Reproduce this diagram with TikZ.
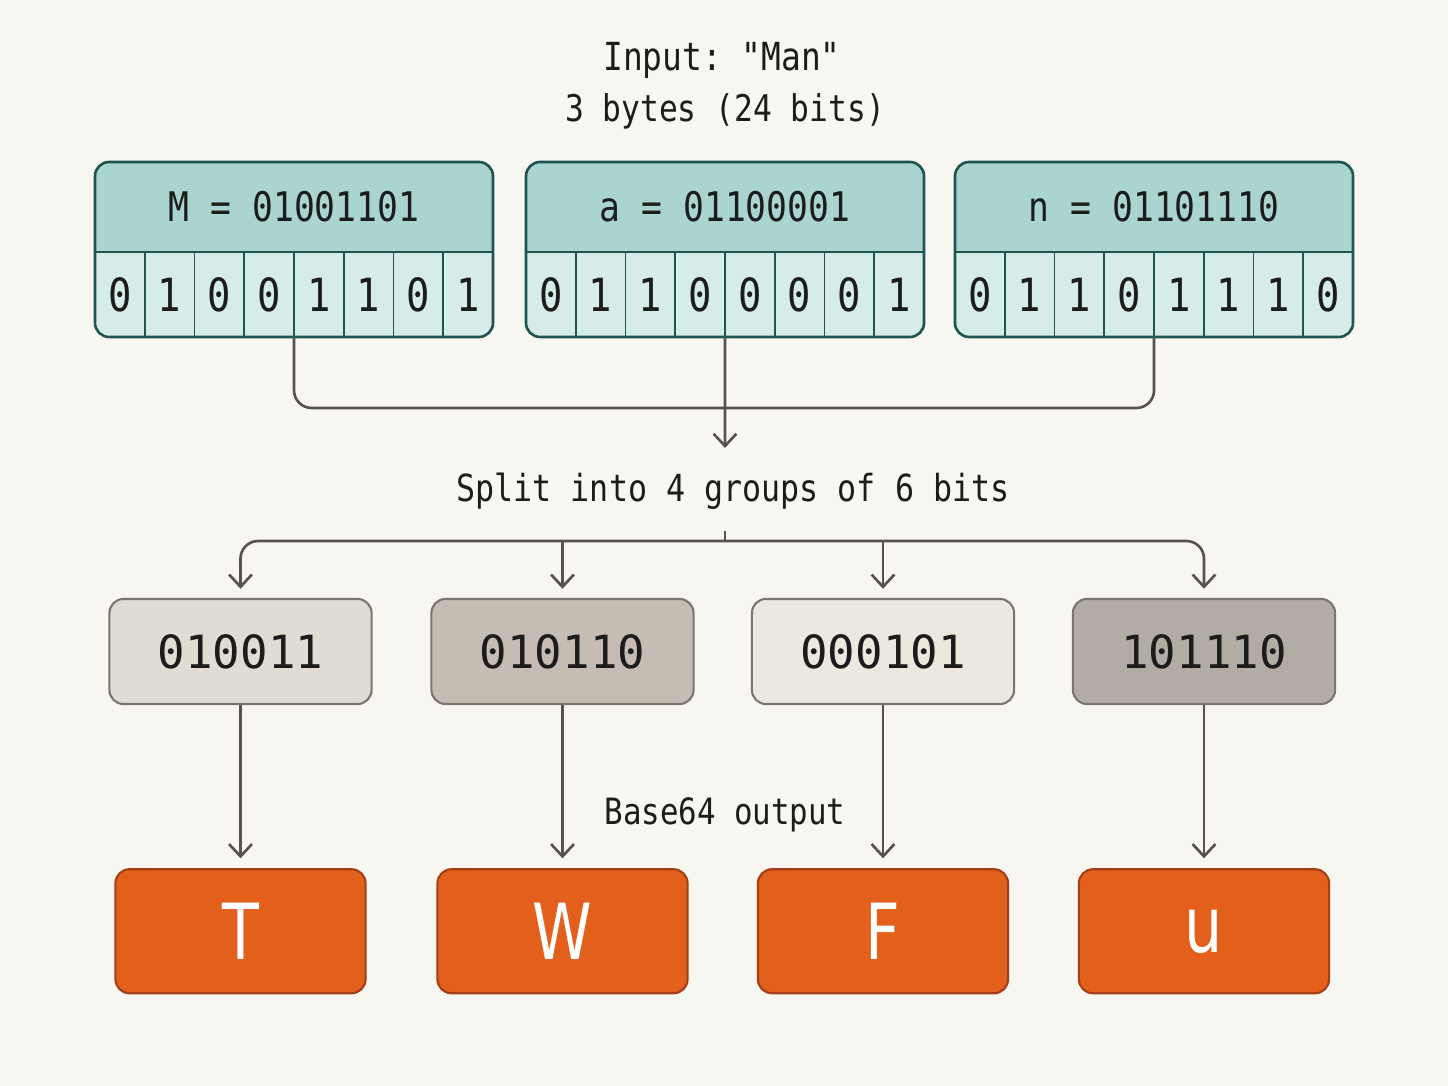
\documentclass[tikz,border=0pt]{standalone}
\usepackage{fontspec}
\setmonofont[FakeStretch=0.85]{DejaVu Sans Mono}
\newfontfamily\groupmono{DejaVu Sans Mono}
\newfontfamily\letterfont[FakeStretch=0.78]{DejaVu Sans}
\usetikzlibrary{positioning,arrows.meta}

\definecolor{paper}{HTML}{F8F6F1}
\definecolor{inktext}{HTML}{1C1C1C}
\definecolor{tealline}{HTML}{1F5450}
\definecolor{headfill}{HTML}{AAD4D0}
\definecolor{cellfill}{HTML}{D5ECE9}
\definecolor{connline}{HTML}{55524F}
\definecolor{grpline}{HTML}{7A756F}
\definecolor{grpA}{HTML}{E1DCD3}
\definecolor{grpB}{HTML}{C5BDB3}
\definecolor{grpC}{HTML}{ECE8E0}
\definecolor{grpD}{HTML}{B3ACA4}
\definecolor{outfill}{HTML}{E3601C}
\definecolor{outline}{HTML}{A43E16}

\tikzset{
  headband/.style={rectangle, fill=headfill, minimum width=3.98cm, minimum height=0.9cm,
    inner sep=0pt, outer sep=0pt, text=inktext, font=\ttfamily\fontsize{11.6}{14}\selectfont},
  bitcell/.style={rectangle, draw=tealline, line width=0.45pt, fill=cellfill,
    minimum width=0.4975cm, minimum height=0.85cm, inner sep=0pt, outer sep=0pt,
    text=inktext, font=\ttfamily\fontsize{13}{15}\selectfont},
  bytebox/.style={draw=tealline, line width=0.75pt, rounded corners=4pt},
  grp/.style={rectangle, rounded corners=4pt, draw=grpline, line width=0.6pt,
    minimum width=2.62cm, minimum height=1.05cm, text=inktext,
    font=\groupmono\fontsize{13}{15}\selectfont},
  outbox/.style={rectangle, rounded corners=4pt, draw=outline, line width=0.6pt, fill=outfill,
    minimum width=2.5cm, minimum height=1.24cm, text=white,
    font=\letterfont\fontsize{22}{26}\selectfont},
  caption/.style={text=inktext, font=\ttfamily\fontsize{10.6}{13}\selectfont},
  conn/.style={draw=connline, line width=0.75pt},
  arr/.style={-{Straight Barb[length=3.5pt,width=6.5pt]}},
}

\begin{document}
\begin{tikzpicture}[x=0.01cm, y=-0.01cm]
\useasboundingbox[fill=paper] (0,0) rectangle (1448,1086);

% title
\node[text=inktext, font=\ttfamily\fontsize{11}{13}\selectfont] (title) at (722,60) {Input: "Man"};
\node[text=inktext, font=\ttfamily\fontsize{10.45}{13}\selectfont] (subtitle) at (725,111) {3 bytes (24 bits)};

% the three input bytes
\foreach \nm/\lx/\hdr/\bits in {M/95/{M = 01001101}/{0,1,0,0,1,1,0,1},
    a/526/{a = 01100001}/{0,1,1,0,0,0,0,1},
    n/955/{n = 01101110}/{0,1,1,0,1,1,1,0}} {
  \begin{scope}
    \clip[rounded corners=4pt] (\lx,162) rectangle ++(398,175);
    \node[headband, anchor=north west] (\nm-head) at (\lx,162) {\hdr};
    \foreach \b [count=\i] in \bits
      \node[bitcell, anchor=north west] (\nm-\i) at (\lx+49.75*\i-49.75,252) {\b};
  \end{scope}
  \draw[bytebox] (\lx,162) rectangle ++(398,175);
}

\coordinate (join) at (725,408);
\coordinate (splitin) at (725,448);
\coordinate (splitout) at (725,531);
\coordinate (fork) at (725,541);

\draw[conn, rounded corners=5pt] (M-4.south east) |- (join) -| (n-4.south east);
\draw[conn, arr] (a-4.south east) -- (splitin);

\node[caption] (split) at (733,491) {Split into 4 groups of 6 bits};

% 6-bit groups
\node[grp, fill=grpA] (g1) at (240.5,651.5) {010011};
\node[grp, fill=grpB] (g2) at (562.5,651.5) {010110};
\node[grp, fill=grpC] (g3) at (883,651.5) {000101};
\node[grp, fill=grpD] (g4) at (1204,651.5) {101110};

\draw[conn] (splitout) -- (fork);
\draw[conn, arr, rounded corners=5pt, shorten >=2.6pt] (fork) -| (g1);
\draw[conn, arr, rounded corners=5pt, shorten >=2.6pt] (fork) -| (g4);
\draw[conn, arr, shorten >=2.6pt] (g2.north |- fork) -- (g2);
\draw[conn, arr, shorten >=2.6pt] (g3.north |- fork) -- (g3);

% output characters
\node[outbox, below=1.63cm of g1] (T) {T};
\node[outbox, below=1.63cm of g2] (W) {W};
\node[outbox, below=1.63cm of g3] (F) {F};
\node[outbox, below=1.63cm of g4] (u) {u};

\node[text=inktext, font=\ttfamily\fontsize{10.3}{13}\selectfont] (outlabel) at (725,815) {Base64 output};

\foreach \g/\o in {g1/T, g2/W, g3/F, g4/u}
  \draw[conn, arr, shorten >=2.8pt] (\g) -- (\o);
\end{tikzpicture}
\end{document}
